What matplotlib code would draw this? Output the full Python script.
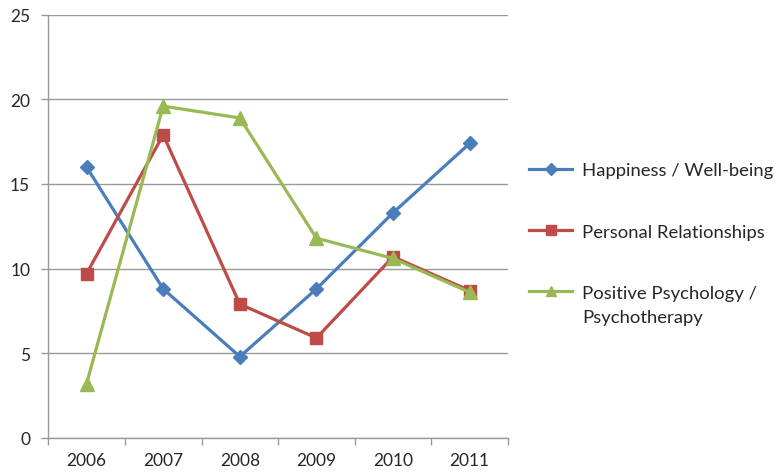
import matplotlib
matplotlib.use("Agg")
import matplotlib.pyplot as plt
import numpy as np

years = ["2006", "2007", "2008", "2009", "2010", "2011"]
happiness = [16.0, 8.8, 4.8, 8.8, 13.3, 17.4]
relationships = [9.7, 17.9, 7.9, 5.9, 10.7, 8.7]
positive_psych = [3.2, 19.6, 18.9, 11.8, 10.6, 8.6]
series_labels = ["Happiness / Well-being", "Personal Relationships",
                 "Positive Psychology /"]
label_continuation = "Psychotherapy"
y_ticks = [0, 5, 10, 15, 20, 25]

plt.rcParams["font.family"] = ["Lato", "DejaVu Sans"]
text_color = "#262626"

fig = plt.figure(figsize=(7.78, 4.77), dpi=100)
ax = fig.add_axes([0.062, 0.080, 0.591, 0.887])

x = np.arange(len(years))
ax.plot(x, happiness, color="#4A7EBB", lw=2.3, marker="D", ms=7.5,
        label=series_labels[0], zorder=3)
ax.plot(x, relationships, color="#BE4B48", lw=2.3, marker="s", ms=8.5,
        label=series_labels[1], zorder=3)
ax.plot(x, positive_psych, color="#98B954", lw=2.3, marker="^", ms=9.5,
        label=series_labels[2], zorder=3)

ax.set_xlim(-0.5, len(years) - 0.5)
ax.set_ylim(0, 25)
ax.set_yticks(y_ticks)
ax.set_xticks(x)
ax.set_xticklabels(years)
ax.set_xticks(np.arange(-0.5, len(years)), minor=True)
ax.tick_params(axis="x", which="major", length=0, pad=10, labelsize=12.5,
               labelcolor=text_color)
ax.tick_params(axis="x", which="minor", length=5, color="#999999", width=1)
ax.tick_params(axis="y", length=5, color="#999999", width=1, pad=8,
               labelsize=12.5, labelcolor=text_color)
ax.grid(axis="y", color="#999999", lw=1)
ax.set_axisbelow(True)
for side in ("top", "right"):
    ax.spines[side].set_visible(False)
for side in ("left", "bottom"):
    ax.spines[side].set_color("#999999")
    ax.spines[side].set_linewidth(1)

leg = fig.legend(loc="upper left", bbox_to_anchor=(0.671, 0.673),
                 frameon=False, fontsize=13.3, labelspacing=2.45,
                 handlelength=2.3, handletextpad=0.55, labelcolor=text_color,
                 borderaxespad=0, markerscale=0.8)

# second line of the last legend label, set just below its first line
fig.canvas.draw()
bb = leg.get_texts()[2].get_window_extent()
fig.text(bb.x0 / fig.bbox.width, (bb.y0 - 24) / fig.bbox.height,
         label_continuation, fontsize=13.3, color=text_color,
         ha="left", va="bottom")

fig.savefig("out.png", dpi=100)
